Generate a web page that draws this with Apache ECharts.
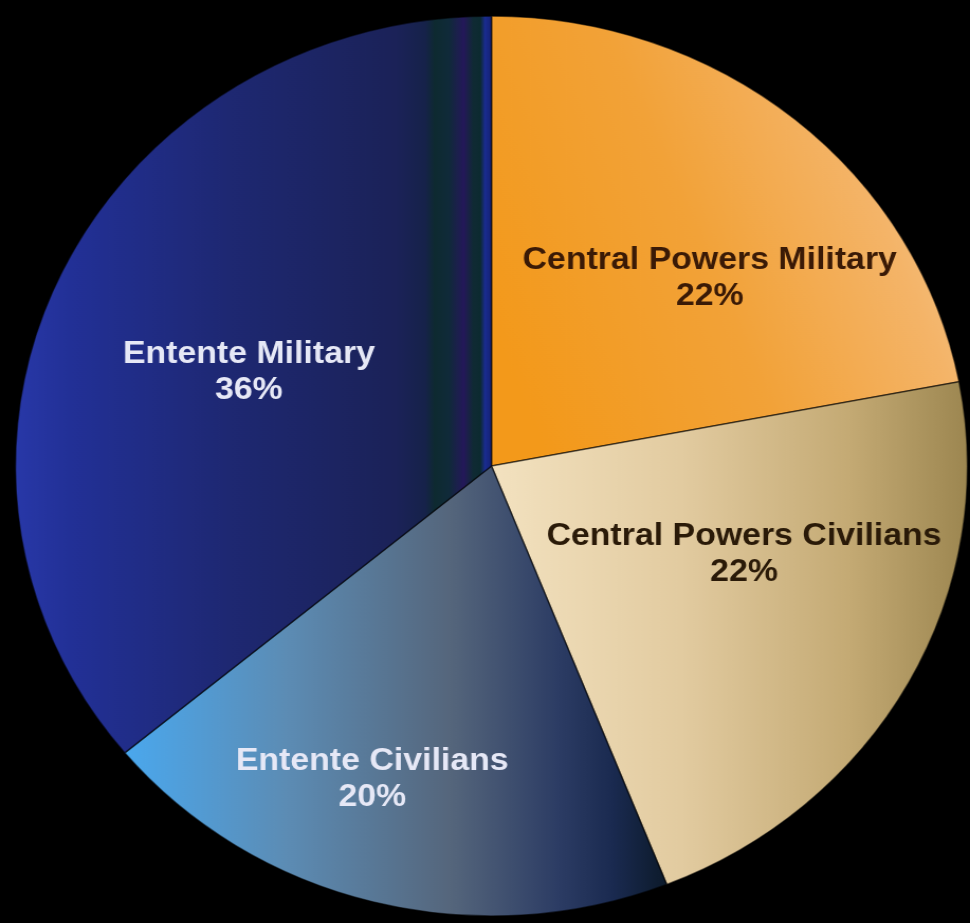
<!DOCTYPE html>
<html><head><meta charset="utf-8">
<script src="https://cdn.jsdelivr.net/npm/echarts@6/dist/echarts.min.js"></script>
<style>
html,body{margin:0;padding:0;background:#000;width:970px;height:923px;overflow:hidden}
#wrap{width:970px;height:923px;overflow:hidden;background:#000}
#c{width:917px;height:923px;transform:scaleX(1.0578);transform-origin:0 0}
</style></head>
<body><div id="wrap"><div id="c"></div></div>
<script>
// ---- data ----
const categories = ['Central Powers Military', 'Central Powers Civilians', 'Entente Civilians', 'Entente Military'];
const values = [22, 22, 20, 36];

// ---- styles (kept apart from data) ----
function lg(x, y, x2, y2, stops) {
  return new echarts.graphic.LinearGradient(x, y, x2, y2, stops.map(s => ({offset: s[0], color: s[1]})));
}
const fills = [
  lg(0, 0.7, 1, 0.3, [[0, '#f3991a'], [0.45, '#f2a238'], [0.8, '#f4b468'], [1, '#f6c890']]),
  lg(0, 0, 1, 0, [[0, '#f3e2c0'], [0.4, '#e2cba0'], [0.75, '#c4aa74'], [1, '#9c8650']]),
  lg(0, 0, 1, 0, [[0, '#4aa8ee'], [0.3, '#5c8cb4'], [0.6, '#55667c'], [0.8, '#2c3c64'], [0.9, '#1a2a50'], [1, '#0c1a2a']]),
  lg(0, 0, 1, 0, [[0, '#2838a8'], [0.12, '#223096'], [0.45, '#1e2872'], [0.8, '#1b2258'], [0.86, '#16224a'],
                  [0.88, '#0e2a30'], [0.91, '#102a3a'], [0.94, '#24185a'], [0.96, '#102a34'], [0.975, '#0c2a30'], [0.985, '#1a2c90'], [1, '#142070']])
];
const textColors = ['#3a1a06', '#2a1a08', '#e6e8f6', '#e6e8f6'];
// label nudges from the default inside position (chart px)
const labelShift = [[61, -12], [39, -22], [-56, 92], [-23, 3]];

const chart = echarts.init(document.getElementById('c'), null, {renderer: 'canvas'});
chart.setOption({
  backgroundColor: '#000',
  animation: false,
  series: [{
    type: 'pie',
    center: [464.6, 466],
    radius: [0, 450],
    startAngle: 90,
    clockwise: true,
    avoidLabelOverlap: false,
    silent: true,
    itemStyle: {borderColor: 'rgba(0,0,0,0.55)', borderWidth: 1.5},
    label: {
      show: true,
      position: 'inside',
      formatter: '{b}\n{d}%',
      fontFamily: 'Liberation Sans, Arial, sans-serif',
      fontWeight: 'bold',
      fontSize: 32,
      lineHeight: 36,
      align: 'center',
      verticalAlign: 'middle',
      overflow: 'none'
    },
    labelLine: {show: false},
    labelLayout: function (p) {
      const s = labelShift[p.dataIndex];
      return {dx: s[0], dy: s[1]};
    },
    data: categories.map((name, i) => ({
      name: name,
      value: values[i],
      itemStyle: {color: fills[i]},
      label: {color: textColors[i]}
    }))
  }]
});
</script>
</body></html>
